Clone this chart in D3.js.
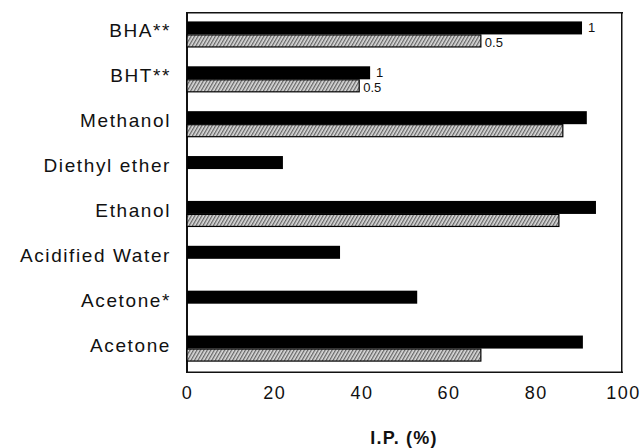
<!DOCTYPE html>
<html>
<head>
<meta charset="utf-8">
<script src="https://cdn.jsdelivr.net/npm/d3@7"></script>
<style>
  body { margin: 0; background: #fff; }
  text { font-family: "Liberation Sans", Arial, sans-serif; fill: #111; }
</style>
</head>
<body>
<div id="plot"></div>
<script>
var width = 642, height = 448;

// categories top to bottom
var categories = ["BHA**", "BHT**", "Methanol", "Diethyl ether", "Ethanol", "Acidified Water", "Acetone*", "Acetone"];
// I.P. (%) at concentration 1 (black) and 0.5 (hatched)
var ip1 = [90.6, 42.0, 91.7, 22.0, 93.8, 35.1, 52.8, 90.8];
var ip05 = [67.4, 39.5, 86.2, null, 85.3, null, null, 67.4];
var series = ["1", "0.5"];
var labelled = ["BHA**", "BHT**"];
var xTicks = [0, 20, 40, 60, 80, 100];

var xScale = d3.scaleLinear()
  .domain([0, 100])
  .range([187, 623]);

var yScale = d3.scaleBand()
  .domain(categories)
  .range([12, 371])
  .paddingInner(0.42)
  .paddingOuter(0.21);

var y1 = d3.scaleBand()
  .domain(series)
  .range([0, yScale.bandwidth()]);

var svg = d3.select("#plot")
  .append("svg")
    .attr("width", width)
    .attr("height", height);

// hatch pattern for the 0.5 series
var pat = svg.append("defs").append("pattern")
  .attr("id", "hatch")
  .attr("patternUnits", "userSpaceOnUse")
  .attr("width", 3)
  .attr("height", 3)
  .attr("patternTransform", "rotate(30)");
pat.append("rect").attr("width", 3).attr("height", 3).attr("fill", "#dcdcdc");
pat.append("rect").attr("width", 1.3).attr("height", 3).attr("fill", "#666");

// plot frame as thin filled strips: top, right, bottom, left
var fL = xScale(0), fR = xScale(100), fT = 12, fB = 373;
var edges = [
  {x: fL, y: fT, w: fR - fL, h: 1.5},
  {x: fR - 2, y: fT, w: 1.5, h: fB - fT},
  {x: fL, y: fB - 1.5, w: fR - fL, h: 1.5},
  {x: fL - 1, y: fT, w: 2, h: fB - fT}
];
svg.selectAll(".edge")
  .data(edges)
  .enter()
  .append("rect")
  .attr("class", "edge")
  .attr("x", d => d.x)
  .attr("y", d => d.y)
  .attr("width", d => d.w)
  .attr("height", d => d.h)
  .attr("fill", "#111");

var rows = categories.map((c, i) => ({cat: c, v1: ip1[i], v05: ip05[i]}));

// black bars
svg.selectAll(".bar1")
  .data(rows)
  .enter()
  .append("rect")
  .attr("class", "bar1")
  .attr("x", xScale(0))
  .attr("y", d => yScale(d.cat) + y1("1"))
  .attr("width", d => xScale(d.v1) - xScale(0))
  .attr("height", y1.bandwidth())
  .attr("fill", "#000");

// hatched bars
svg.selectAll(".bar05")
  .data(rows.filter(d => d.v05 != null))
  .enter()
  .append("rect")
  .attr("class", "bar05")
  .attr("x", xScale(0))
  .attr("y", d => yScale(d.cat) + y1("0.5") + 0.5)
  .attr("width", d => xScale(d.v05) - xScale(0))
  .attr("height", y1.bandwidth() - 1)
  .attr("fill", "url(#hatch)")
  .attr("stroke", "#000")
  .attr("stroke-width", 1.2);

// concentration labels on BHA / BHT
var lab = rows.filter(d => labelled.includes(d.cat));
svg.selectAll(".lab1")
  .data(lab)
  .enter()
  .append("text")
  .attr("x", d => xScale(d.v1) + 6)
  .attr("y", d => yScale(d.cat) + y1("1") + y1.bandwidth() - 2)
  .style("font-size", "13px")
  .text("1");
svg.selectAll(".lab05")
  .data(lab)
  .enter()
  .append("text")
  .attr("x", d => xScale(d.v05) + 4)
  .attr("y", d => yScale(d.cat) + y1("0.5") + y1.bandwidth() - 0.5)
  .style("font-size", "13px")
  .text("0.5");

// category labels
svg.selectAll(".cat")
  .data(categories)
  .enter()
  .append("text")
  .attr("x", 171)
  .attr("y", d => yScale(d) + yScale.bandwidth() / 2 + 3)
  .attr("text-anchor", "end")
  .style("font-size", "19px")
  .style("letter-spacing", "1.6px")
  .text(d => d);

// x axis tick labels
var xAxis = svg.append("g")
  .attr("transform", "translate(0,381)")
  .call(d3.axisBottom(xScale).tickValues(xTicks).tickSize(0).tickPadding(0));
xAxis.select(".domain").remove();
xAxis.selectAll("text")
  .attr("dy", "1em")
  .style("font-family", "'Liberation Sans', Arial, sans-serif")
  .style("font-size", "18px")
  .style("letter-spacing", "1.5px")
  .style("fill", "#111");

svg.append("text")
  .attr("x", 404)
  .attr("y", 444)
  .attr("text-anchor", "middle")
  .style("font-size", "18px")
  .style("font-weight", "bold")
  .style("letter-spacing", "1.2px")
  .text("I.P. (%)");
</script>
</body>
</html>
